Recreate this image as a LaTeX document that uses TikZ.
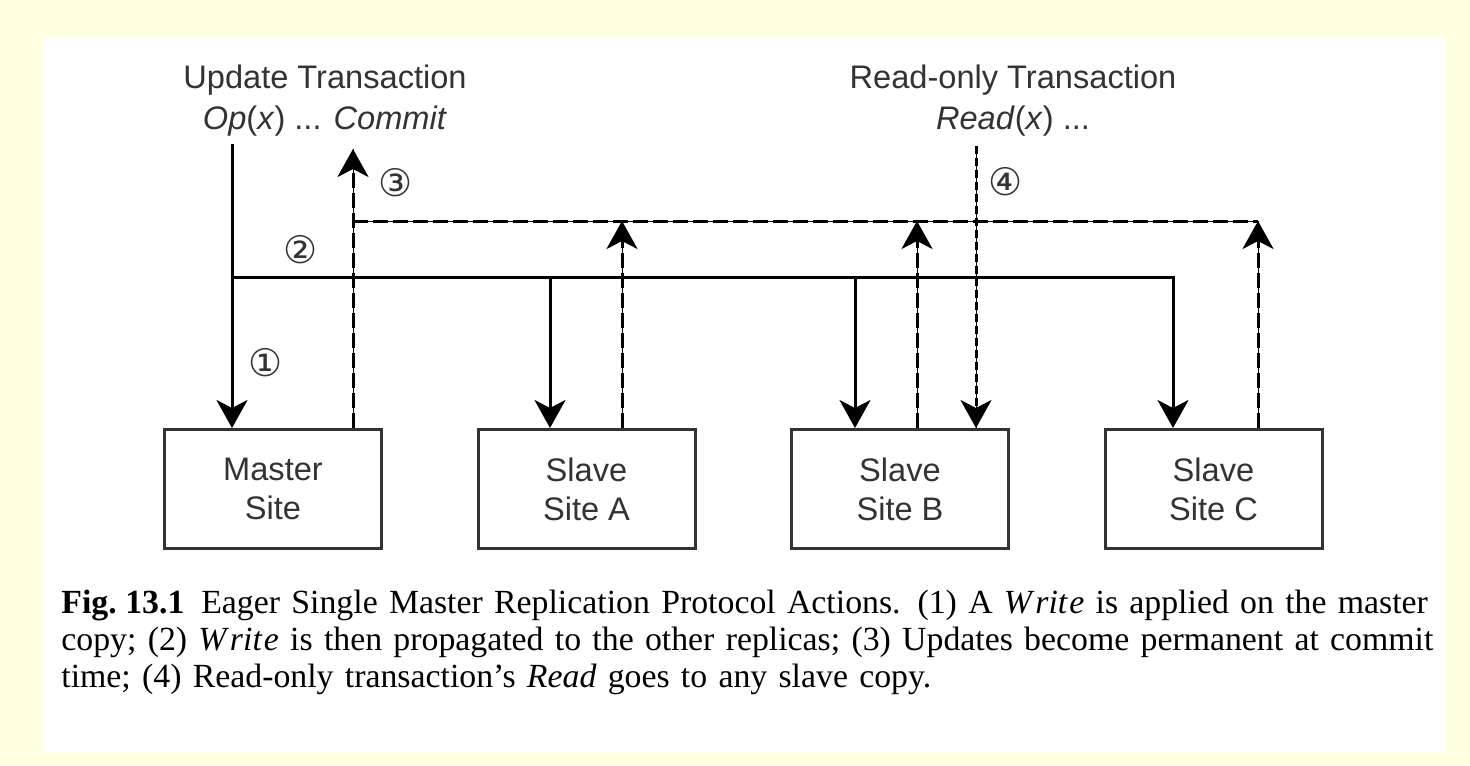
\documentclass[tikz,border=0pt]{standalone}
\usepackage{fontspec}
\setmainfont{Liberation Serif}
\setsansfont{Liberation Sans}
\newfontfamily\circfont{DejaVu Sans}
\usetikzlibrary{arrows.meta,positioning}
\definecolor{pagebg}{HTML}{FFFFE1}
\definecolor{inkgray}{HTML}{333333}
\newcommand{\wrt}{\textit{W\kern.1em rit\kern.06em e}}

\begin{document}
\begin{tikzpicture}[
  x=0.5pt, y=-0.5pt,
  node distance=46.75pt,
  site/.style={draw=inkgray, line width=1.5pt, minimum width=108.5pt, minimum height=59.5pt, align=center, text=inkgray, inner sep=0pt, font=\sffamily\fontsize{16.3}{19.5}\selectfont},
  lbl/.style={align=center, text=inkgray, inner sep=0pt, font=\sffamily\fontsize{16.3}{20.5}\selectfont},
  num/.style={inner sep=0pt, text=inkgray, font=\circfont\fontsize{19}{19}\selectfont},
  captext/.style={anchor=north west, inner sep=0pt, text width=684.5pt, align=left, font=\fontsize{16.9}{18.5}\selectfont},
  ln/.style={line width=1.5pt, line join=miter},
  arr/.style={line width=1.5pt, line join=miter, -{Stealth[length=14pt, width=15.5pt, inset=4pt]}},
  dsh/.style={dash pattern=on 7.5pt off 2.5pt, preaction={draw, solid, line width=0.4pt, -}},
  dot/.style={line width=1.3pt, dash pattern=on 4pt off 2pt, preaction={draw, solid, line width=0.4pt, -}}
]
\path[use as bounding box, fill=pagebg] (0,0) rectangle (1470,765);
\fill[white] (44,38) rectangle (1445,752);

\node[site] (master) at (273,489) {Master\\Site};
\node[site, right=of master] (slaveA) {Slave\\Site A};
\node[site, right=of slaveA] (slaveB) {Slave\\Site B};
\node[site, right=of slaveB] (slaveC) {Slave\\Site C};

\node[lbl] (upd) at (325,101) {Update Transaction\\\textit{Op}(\textit{x}) ... \textit{Commit}};
\node[lbl] (rdo) at (1013,101) {Read-only Transaction\\\textit{Read}(\textit{x}) ...};

\coordinate (opIn) at (232,144);
\coordinate (busL) at (232,277);
\coordinate (busR) at (1173,277);
\coordinate (tapA) at (550,277);
\coordinate (tapB) at (855,277);
\coordinate (cmtUp) at (353,149);
\coordinate (cmtL) at (353,221);
\coordinate (cmtR) at (1258,221);
\coordinate (ackA) at (622,221);
\coordinate (ackB) at (917,221);
\coordinate (rdIn) at (976,146);

\draw[dsh, arr] (cmtUp |- master.north) -- (cmtUp);
\draw[dsh, ln] (cmtL) -- (cmtR);
\draw[dsh, arr] (ackA |- slaveA.north) -- (ackA);
\draw[dsh, arr] (ackB |- slaveB.north) -- (ackB);
\draw[dsh, arr] (cmtR |- slaveC.north) -- (cmtR);

\draw[arr] (opIn) -- (opIn |- master.north);
\draw[arr] (busL) -- (busR) -- (busR |- slaveC.north);
\draw[arr] (tapA) -- (tapA |- slaveA.north);
\draw[arr] (tapB) -- (tapB |- slaveB.north);
\draw[dot, arr] (rdIn) -- (rdIn |- slaveB.north);

\node[num] (n1) at (266,363) {①};
\node[num] (n2) at (301,250) {②};
\node[num] (n3) at (396,183) {③};
\node[num] (n4) at (1006,182) {④};

\node[captext] (caption) at (61,590) {\makebox[684.5pt][s]{\textbf{Fig.\hspace{0.25em}13.1}\enskip Eager Single Master Replication Protocol Actions. (1) A \wrt{} is applied on the master}\\
  \makebox[684.5pt][s]{copy; (2) \wrt{} is then propagated to the other replicas; (3) Updates become permanent at commit}\\
  time; (4) Read-only transaction's \textit{Read} goes to any slave copy.};
\end{tikzpicture}
\end{document}
